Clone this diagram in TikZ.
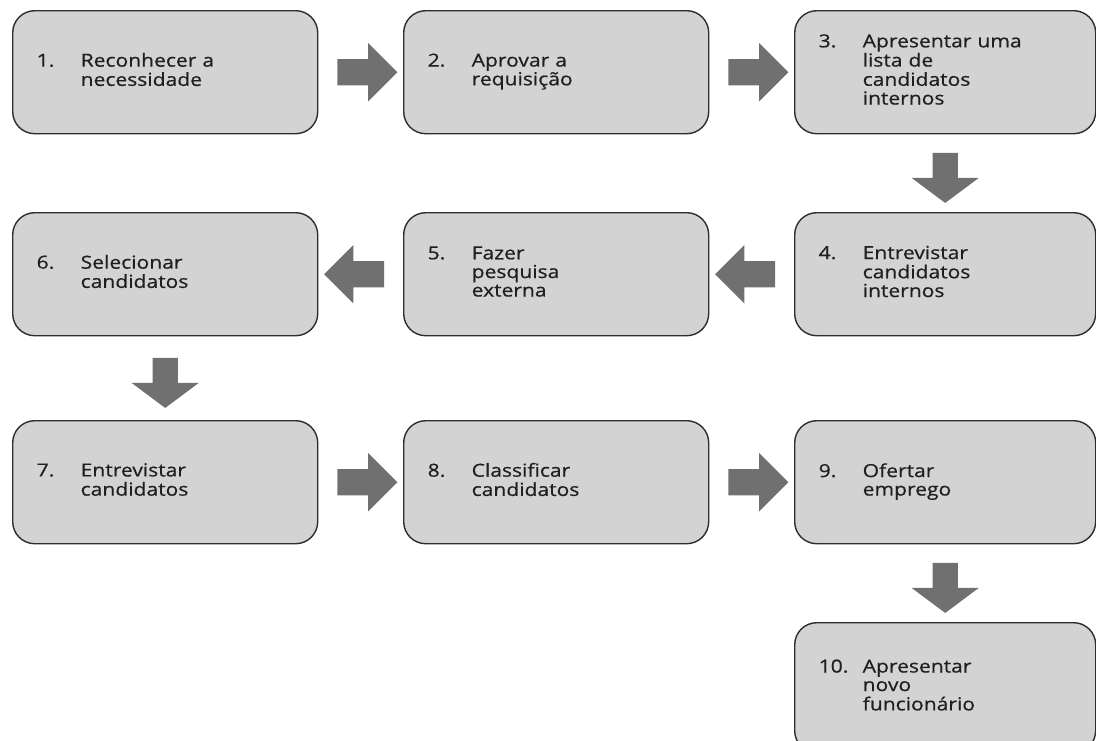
\documentclass[tikz,border=0pt]{standalone}
\usepackage{fontspec}
\setmainfont{Open Sans}[FakeStretch=1.17, FakeBold=0.6]
\usetikzlibrary{shapes.arrows,calc}
\definecolor{boxfill}{RGB}{211,211,211}
\definecolor{boxline}{RGB}{45,45,45}
\definecolor{arrowgray}{RGB}{112,112,112}
% number column + wrapped step text
\newcommand{\stepentry}[2]{\begin{tabular}{@{}p{44pt}@{}l@{}}#1 & #2\end{tabular}}
\begin{document}
\begin{tikzpicture}[x=1pt,y=-1pt,
  stepbox/.style={draw=boxline, fill=boxfill, line width=1.4pt,
    rounded corners=22pt, minimum height=123pt, text width=257pt,
    inner xsep=24pt, inner ysep=0pt, align=left, anchor=north west,
    font=\fontsize{18}{18.5}\selectfont, text=black!88},
  narrowbox/.style={stepbox, text width=253pt},
  flowarrow/.style={single arrow, fill=arrowgray, draw=none,
    inner xsep=0pt, inner ysep=13pt, single arrow head extend=16pt,
    single arrow tip angle=90, minimum height=60pt},
  downarrow/.style={single arrow, fill=arrowgray, draw=none, rotate=-90,
    inner xsep=0pt, inner ysep=12.5pt, single arrow head extend=21pt,
    single arrow tip angle=106.6, minimum height=50pt}
]
\useasboundingbox (0,0) rectangle (1096,740);
\clip (0,0) rectangle (1096,740);

% step boxes
\node[stepbox]   (b1)  at (12,10)   {\stepentry{1.}{Reconhecer a\\ & necessidade}};
\node[stepbox]   (b2)  at (403,10)  {\stepentry{2.}{Aprovar a\\ & requisição}};
\node[narrowbox] (b3)  at (794,10)  {\stepentry{3.}{Apresentar uma\\ & lista de\\ & candidatos\\ & internos}};
\node[narrowbox] (b4)  at (794,212) {\stepentry{4.}{Entrevistar\\ & candidatos\\ & internos}};
\node[stepbox]   (b5)  at (403,212) {\stepentry{5.}{Fazer\\ & pesquisa\\ & externa}};
\node[stepbox]   (b6)  at (12,212)  {\stepentry{6.}{Selecionar\\ & candidatos}};
\node[stepbox]   (b7)  at (12,420)  {\stepentry{7.}{Entrevistar\\ & candidatos}};
\node[stepbox]   (b8)  at (403,420) {\stepentry{8.}{Classificar\\ & candidatos}};
\node[narrowbox] (b9)  at (794,420) {\stepentry{9.}{Ofertar\\ & emprego}};
\node[narrowbox, minimum height=130pt] (b10) at (794,622) {\stepentry{10.}{Apresentar\\ & novo\\ & funcionário}};

% block arrows between consecutive steps
\node[flowarrow] (a12) at ($(b1.east)!0.5!(b2.west)$) {};
\node[flowarrow] (a23) at ($(b2.east)!0.5!(b3.west)$) {};
\node[downarrow] (a34) at ($(b3.south)!0.5!(b4.north)$) {};
\node[flowarrow, rotate=180] (a45) at ($(b5.east)!0.5!(b4.west)$) {};
\node[flowarrow, rotate=180] (a56) at ($(b6.east)!0.5!(b5.west)$) {};
\node[downarrow] (a67) at ($(b6.south)!0.5!(b7.north)$) {};
\node[flowarrow] (a78) at ($(b7.east)!0.5!(b8.west)$) {};
\node[flowarrow] (a89) at ($(b8.east)!0.5!(b9.west)$) {};
\node[downarrow] (a910) at ($(b9.south)!0.5!(b10.north)$) {};
\end{tikzpicture}
\end{document}
